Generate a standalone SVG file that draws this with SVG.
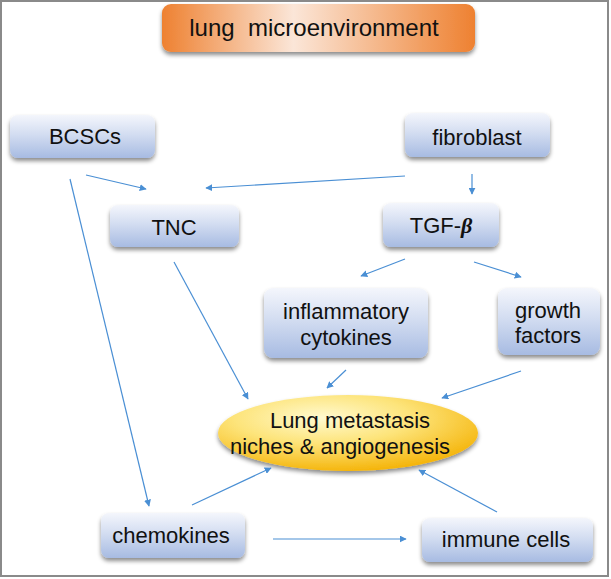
<svg xmlns="http://www.w3.org/2000/svg" width="611" height="579" viewBox="0 0 611 579">
<defs>
<linearGradient id="nodeGrad" x1="0" y1="0" x2="0" y2="1">
<stop offset="0" stop-color="#f4f6fc"/>
<stop offset="0.45" stop-color="#d3ddf1"/>
<stop offset="1" stop-color="#a7bbe2"/>
</linearGradient>
<linearGradient id="titleGrad" x1="0" y1="0" x2="1" y2="0">
<stop offset="0" stop-color="#ee8131"/>
<stop offset="0.42" stop-color="#fbe6d8"/>
<stop offset="1" stop-color="#ee8131"/>
</linearGradient>
<radialGradient id="ellGrad" cx="0.4" cy="0.3" r="0.75">
<stop offset="0" stop-color="#fffad0"/>
<stop offset="0.45" stop-color="#fde47a"/>
<stop offset="1" stop-color="#f4b000"/>
</radialGradient>
<filter id="shadow" x="-10%" y="-10%" width="120%" height="140%">
<feDropShadow dx="0" dy="3" stdDeviation="2" flood-color="#000" flood-opacity="0.45"/>
</filter>
<marker id="arr" viewBox="0 0 10 10" refX="9" refY="5" markerWidth="7" markerHeight="7" markerUnits="userSpaceOnUse" orient="auto">
<path d="M0,0 L10,5 L0,10 z" fill="#4a8fd4"/>
</marker>
</defs>
<style>
.node{fill:url(#nodeGrad);filter:url(#shadow);}
.t{font-family:"Liberation Sans",Arial,sans-serif;font-size:22px;fill:#111;text-anchor:middle;}
.c{stroke:#4a8fd4;stroke-width:1.2;fill:none;marker-end:url(#arr);}
</style>
<rect x="1" y="1" width="607" height="575" fill="#fff" stroke="#8a8a8a" stroke-width="2"/>

<g id="title">
<rect x="162" y="4" width="313" height="48" rx="9" fill="url(#titleGrad)" filter="url(#shadow)"/>
<text x="314" y="36" class="t" style="font-size:24px" xml:space="preserve">lung  microenvironment</text>
</g>
<g id="BCSCs">
<rect class="node" x="10" y="115" width="145" height="43" rx="8"/>
<text x="85" y="144" class="t">BCSCs</text>
</g>
<g id="fibroblast">
<rect class="node" x="405" y="113" width="145" height="44" rx="8"/>
<text x="477" y="145" class="t">fibroblast</text>
</g>
<g id="TNC">
<rect class="node" x="110" y="205" width="129" height="42" rx="8"/>
<text x="174" y="235" class="t">TNC</text>
</g>
<g id="TGF">
<rect class="node" x="383" y="203" width="116" height="44" rx="8"/>
<text x="441" y="233" class="t">TGF-<tspan style="font-family:'Liberation Serif',serif;font-weight:bold;font-style:italic">β</tspan></text>
</g>
<g id="inflammatory">
<rect class="node" x="264" y="288" width="164" height="70" rx="9"/>
<text x="346" y="319" class="t">inflammatory</text>
<text x="346" y="345" class="t">cytokines</text>
</g>
<g id="growth">
<rect class="node" x="498" y="288" width="102" height="67" rx="9"/>
<text x="548" y="318" class="t">growth</text>
<text x="548" y="343" class="t">factors</text>
</g>
<g id="niche">
<ellipse cx="348" cy="433" rx="130" ry="38" fill="url(#ellGrad)" filter="url(#shadow)"/>
<text x="350" y="428" class="t">Lung metastasis</text>
<text x="340" y="454" class="t">niches &amp; angiogenesis</text>
</g>
<g id="chemokines">
<rect class="node" x="101" y="513" width="144" height="45" rx="8"/>
<text x="171" y="543" class="t">chemokines</text>
</g>
<g id="immune">
<rect class="node" x="422" y="518" width="171" height="44" rx="8"/>
<text x="506" y="547" class="t">immune cells</text>
</g>

<g id="connectors">
<line class="c" x1="86" y1="175" x2="146" y2="189"/>
<line class="c" x1="405" y1="176" x2="206" y2="188"/>
<line class="c" x1="472" y1="174" x2="472" y2="194"/>
<line class="c" x1="70" y1="179" x2="149" y2="506"/>
<line class="c" x1="174" y1="262" x2="248" y2="399"/>
<line class="c" x1="405" y1="259" x2="361" y2="276"/>
<line class="c" x1="474" y1="262" x2="521" y2="277"/>
<line class="c" x1="346" y1="370" x2="327" y2="388"/>
<line class="c" x1="521" y1="371" x2="442" y2="398"/>
<line class="c" x1="192" y1="505" x2="271" y2="468"/>
<line class="c" x1="497" y1="512" x2="419" y2="470"/>
<line class="c" x1="273" y1="539" x2="406" y2="539"/>
</g>
</svg>
